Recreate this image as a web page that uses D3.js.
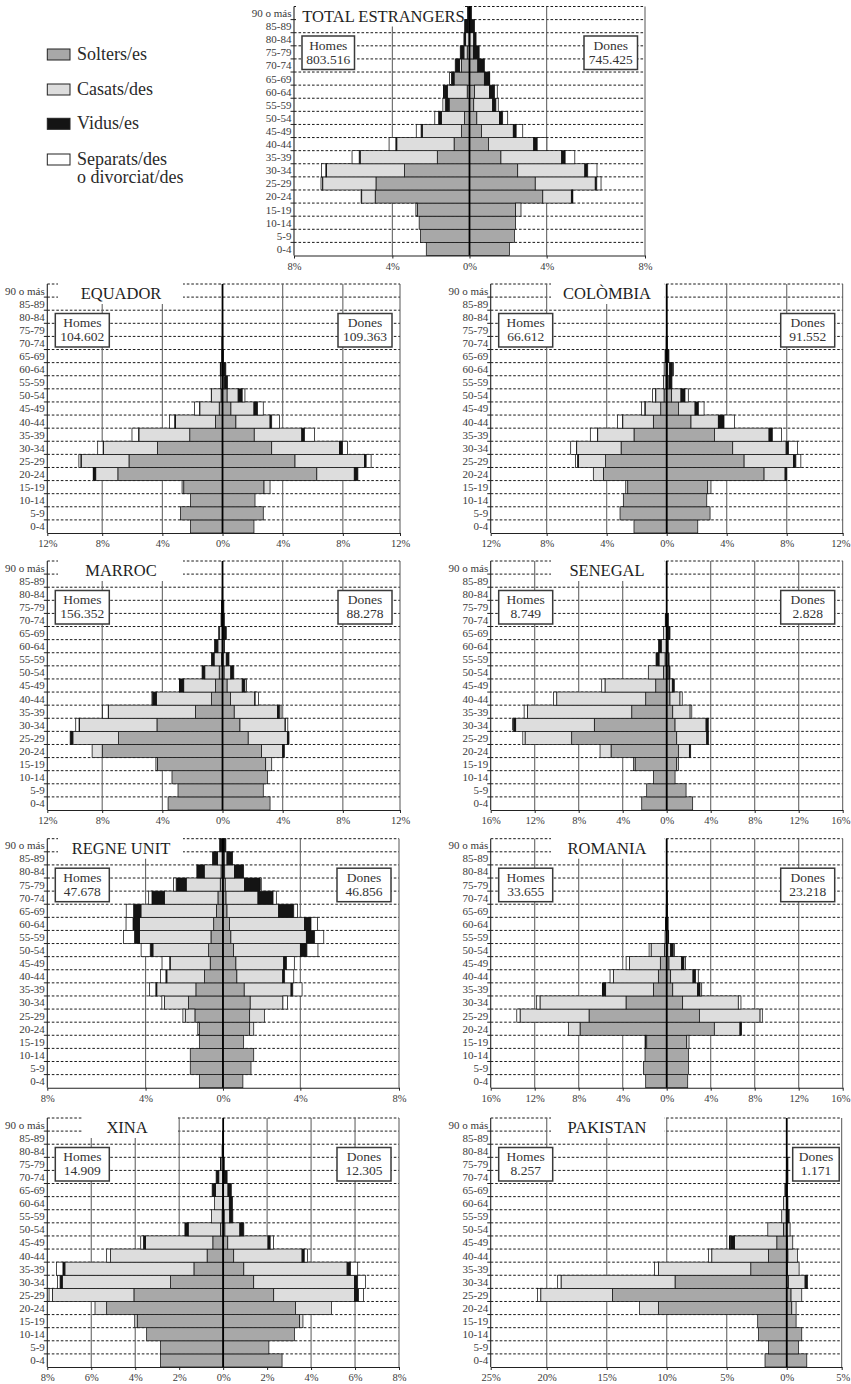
<!DOCTYPE html>
<html><head><meta charset="utf-8">
<script src="https://cdn.jsdelivr.net/npm/d3@7"></script>
<style>
body{margin:0;background:#fff}
svg{display:block}
text{font-family:"Liberation Serif","Times New Roman",serif}
</style></head>
<body><svg id="c" width="851" height="1384"></svg>
<script>
// ---------- categories ----------
const AGES = ["0-4","5-9","10-14","15-19","20-24","25-29","30-34","35-39","40-44","45-49",
              "50-54","55-59","60-64","65-69","70-74","75-79","80-84","85-89","90 o más"];
const STATUS = ["Solters/es","Casats/des","Vidus/es","Separats/des"];
const LEGEND_LINES = [["Solters/es"],["Casats/des"],["Vidus/es"],["Separats/des","o divorciat/des"]];
const TITLES = ["TOTAL ESTRANGERS","EQUADOR","COLÒMBIA","MARROC","SENEGAL","REGNE UNIT","ROMANIA","XINA","PAKISTAN"];
const HOMES_TOTAL = ["803.516","104.602","66.612","156.352","8.749","47.678","33.655","14.909","8.257"];
const DONES_TOTAL = ["745.425","109.363","91.552","88.278","2.828","46.856","23.218","12.305","1.171"];

// ---------- axis extents & tick labels (in %) ----------
const DOMAINS = [[-9.1,9.1],[-11.65,11.8],[-11.73,11.73],[-11.65,11.8],[-16,16],[-9.08,9.1],[-16,16],[-8,8],[-24.67,4.58]];
const GRID_TICKS = [[-4,0,4],[-8,-4,0,4,8],[-8,-4,0,4,8],[-8,-4,0,4,8],[-12,-8,-4,0,4,8,12],
                    [-4,0,4],[-12,-8,-4,0,4,8,12],[-6,-4,-2,0,2,4,6],[-20,-15,-10,-5,0]];
const EDGE_LABELS = [["8%","8%"],["12%","12%"],["12%","12%"],["12%","12%"],["16%","16%"],
                     ["8%","8%"],["16%","16%"],["8%","8%"],["25%","5%"]];

// ---------- values: % of population, per age (0-4 .. 90+), [Solters, Casats, Vidus, Separats] ----------
const TOTAL_H = [[2.24,0,0,0],[2.54,0,0,0],[2.61,0,0,0],[2.70,0.08,0,0],[4.89,0.70,0.01,0.02],[4.85,2.76,0.02,0.07],
 [3.37,4.05,0.03,0.22],[1.67,4.00,0.05,0.37],[0.80,2.97,0.05,0.35],[0.41,2.04,0.06,0.25],[0.26,1.20,0.14,0.20],
 [1.05,0.04,0.17,0.12],[0.12,1.03,0.17,0.03],[0.80,0,0.14,0.09],[0.42,0.10,0.22,0],[0.12,0.17,0.19,0],
 [0.03,0.17,0.09,0],[0.02,0.05,0.18,0],[0,0,0.10,0]];
const TOTAL_D = [[2.07,0,0,0],[2.33,0,0,0],[2.39,0,0,0],[2.39,0.28,0,0],[3.80,1.48,0.06,0.02],[3.41,3.11,0.08,0.22],
 [2.50,3.48,0.15,0.48],[1.63,3.15,0.18,0.50],[0.98,2.35,0.18,0.50],[0.62,1.65,0.15,0.34],[0.38,1.17,0.17,0.26],
 [0.22,0.98,0.17,0.12],[0.26,0.78,0.26,0.14],[0.77,0,0.26,0.02],[0.43,0,0.34,0],[0.20,0,0.30,0],
 [0.02,0.20,0.12,0],[0,0.06,0.20,0],[0,0,0.10,0]];
const EQ_H = [[2.13,0,0,0],[2.80,0,0,0],[2.13,0,0,0],[2.58,0.11,0,0],[6.96,1.47,0.13,0.04],[6.22,3.18,0.02,0.13],
 [4.33,3.58,0.03,0.36],[2.18,3.38,0.02,0.44],[0.47,2.66,0.05,0.35],[0.22,1.29,0.02,0.33],[0.10,0.63,0,0.02],
 [0.03,0.10,0,0],[0.02,0.08,0.05,0],[0,0.03,0.02,0],[0,0.02,0.02,0],[0,0.01,0.01,0],[0,0,0.01,0],[0,0,0,0],[0,0,0,0]];
const EQ_D = [[2.09,0,0,0],[2.71,0,0,0],[2.16,0,0,0],[2.76,0.40,0,0],[6.27,2.49,0.24,0],[4.82,4.62,0.11,0.33],
 [3.27,4.51,0.20,0.33],[2.11,3.16,0.18,0.67],[0.89,2.27,0.11,0.51],[0.56,1.53,0.24,0.38],[0.31,0.73,0.27,0.18],
 [0.10,0.05,0.18,0],[0.02,0.05,0.15,0],[0,0.02,0.05,0],[0,0,0.03,0],[0,0,0.02,0],[0,0,0.01,0],[0,0,0,0],[0,0,0,0]];
const CO_H = [[2.18,0,0,0],[3.11,0,0,0],[2.89,0,0,0],[2.60,0.13,0,0],[4.22,0.67,0,0],[4.07,1.82,0.05,0.13],
 [3.04,2.96,0.02,0.38],[2.18,2.42,0.02,0.47],[0.89,2.04,0.02,0.33],[0.40,1.04,0.02,0.22],[0.18,0.55,0.02,0.20],
 [0.05,0.17,0,0],[0.05,0.12,0,0],[0,0.03,0.08,0],[0,0.02,0.02,0],[0,0,0.01,0],[0,0,0,0],[0,0,0,0],[0,0,0,0]];
const CO_D = [[2.07,0,0,0],[2.89,0,0,0],[2.67,0,0,0],[2.73,0.22,0,0],[6.49,1.40,0.11,0],[5.16,3.29,0.16,0.33],
 [4.40,3.56,0.16,0.60],[3.18,3.64,0.22,0.62],[1.62,1.82,0.38,0.69],[0.78,1.11,0.22,0.38],[0.33,0.62,0.27,0.22],
 [0.05,0.10,0.20,0],[0.05,0.15,0.20,0.05],[0,0.03,0.12,0],[0,0.01,0.03,0],[0,0,0.02,0],[0,0,0.01,0],[0,0,0.01,0],[0,0,0,0]];
const MA_H = [[3.62,0,0,0],[2.96,0,0,0],[3.36,0,0,0],[4.33,0.10,0,0],[8.00,0.67,0,0],[6.91,3.04,0.18,0],
 [4.36,5.16,0.02,0.22],[1.80,5.78,0.02,0.38],[0.73,3.67,0.27,0.02],[0.47,2.11,0.27,0.02],[0.22,0.96,0.18,0],
 [0.07,0.49,0.18,0],[0.02,0.29,0.22,0],[0.02,0.20,0.03,0],[0,0.05,0.05,0],[0,0.03,0.03,0],[0,0.01,0.02,0],[0,0,0.01,0],[0,0,0,0]];
const MA_D = [[3.16,0,0,0],[2.71,0,0,0],[3.00,0,0,0],[2.87,0.40,0,0],[2.60,1.40,0.11,0],[1.71,2.60,0.11,0],
 [1.16,3.00,0.02,0.16],[0.78,2.87,0.13,0.11],[0.53,1.62,0.02,0.22],[0.31,1.00,0.18,0.11],[0.11,0.44,0.20,0],
 [0.05,0.20,0.18,0],[0.02,0.08,0.02,0],[0,0.03,0.22,0],[0,0.02,0.10,0],[0,0.01,0.08,0],[0,0,0.02,0],[0,0,0,0],[0,0,0,0]];
const SE_H = [[2.27,0,0,0],[1.82,0,0,0],[1.21,0,0,0],[2.88,0.15,0,0],[5.06,1.00,0,0],[8.64,4.24,0,0.20],
 [6.58,7.15,0.20,0.10],[3.18,9.48,0,0.30],[1.91,8.09,0,0.30],[1.00,4.61,0,0.30],[0.30,1.37,0,0],
 [0.15,0.55,0.27,0],[0.05,0.45,0.24,0],[0.02,0.28,0,0],[0,0.05,0.08,0],[0,0,0,0],[0,0,0,0],[0,0,0,0],[0,0,0,0]];
const SE_D = [[2.36,0,0,0],[1.76,0,0,0],[0.76,0,0,0],[0.91,0.15,0,0],[1.06,1.00,0.12,0],[0.91,2.73,0.15,0],
 [0.76,2.82,0.20,0],[0.55,1.58,0,0.15],[0.30,0.91,0,0.20],[0.24,0.27,0.18,0],[0.05,0.15,0.10,0],
 [0.02,0.12,0.08,0],[0,0.08,0.06,0],[0,0.05,0.25,0],[0,0.02,0.13,0],[0,0,0,0],[0,0,0,0],[0,0,0,0],[0,0,0,0]];
const RU_H = [[1.22,0,0,0],[1.69,0,0,0],[1.69,0,0,0],[1.22,0,0,0],[1.21,0.09,0,0],[1.45,0.50,0,0.12],
 [1.78,1.24,0,0.14],[1.40,2.02,0.05,0.33],[0.95,1.95,0.05,0.28],[0.66,2.07,0.02,0.40],[0.74,2.88,0.14,0.47],
 [0.62,3.69,0.26,0.57],[0.48,3.83,0.34,0.36],[0.34,3.90,0.38,0.38],[0.26,2.77,0.64,0.17],[0.14,1.76,0.52,0.14],
 [0.10,0.87,0.38,0],[0.05,0.23,0.26,0],[0,0.02,0.15,0]];
const RU_D = [[1.03,0,0,0],[1.45,0,0,0],[1.59,0,0,0],[1.07,0,0,0],[1.38,0.21,0,0],[1.38,0.76,0,0],
 [1.41,1.69,0,0.24],[1.10,2.42,0.09,0.48],[0.72,2.37,0.10,0.47],[0.67,2.47,0.14,0.41],[0.55,3.45,0.34,0.57],
 [0.41,3.90,0.43,0.47],[0.34,3.88,0.33,0.34],[0.21,2.67,0.78,0.20],[0.16,1.65,0.78,0.17],[0.12,1.00,0.81,0.05],
 [0.09,0.51,0.47,0],[0.07,0.14,0.29,0],[0,0.02,0.13,0]];
const RO_H = [[1.91,0,0,0],[2.12,0,0,0],[1.97,0,0,0],[1.82,0.12,0.03,0],[7.88,1.06,0,0],[7.06,6.27,0,0.30],
 [3.70,7.82,0,0.30],[1.21,4.34,0.24,0.06],[0.76,4.09,0,0.30],[0.58,2.81,0,0.30],[0.21,1.21,0,0.18],
 [0.05,0.10,0,0],[0.02,0.06,0.02,0],[0,0.03,0.02,0],[0,0.02,0.01,0],[0,0,0,0],[0,0,0,0],[0,0,0,0],[0,0,0,0]];
const RO_D = [[1.91,0,0,0],[1.97,0,0,0],[1.97,0,0,0],[1.82,0.21,0,0],[4.33,2.33,0.15,0],[2.97,5.52,0,0.20],
 [1.45,5.06,0,0.24],[0.55,2.24,0.24,0.15],[0.36,2.03,0.24,0.24],[0.21,1.15,0.21,0.15],[0.10,0.26,0.24,0.10],
 [0.03,0.10,0.05,0],[0,0.05,0.08,0],[0,0.02,0.05,0],[0,0.01,0.04,0],[0,0,0,0],[0,0,0,0],[0,0,0,0],[0,0,0,0]];
const XI_H = [[2.85,0,0,0],[2.85,0,0,0],[3.48,0,0,0],[3.91,0.11,0,0],[5.30,0.53,0,0],[4.06,3.71,0,0.15],
 [2.39,4.93,0.10,0.12],[1.33,5.87,0.09,0.29],[0.73,4.39,0,0.18],[0.47,3.06,0.10,0.12],[0.12,1.47,0.15,0],
 [0.05,0.48,0,0],[0.03,0.36,0,0],[0.02,0.33,0.15,0],[0.02,0.18,0.12,0],[0,0.10,0.02,0],[0,0.03,0.02,0],[0,0.01,0.01,0],[0,0,0,0]];
const XI_D = [[2.68,0,0,0],[2.08,0,0,0],[3.24,0,0,0],[3.48,0.15,0,0],[3.29,1.64,0,0],[2.30,3.68,0.18,0.23],
 [1.39,4.59,0.14,0.35],[0.94,4.70,0.15,0.33],[0.48,3.11,0.10,0.15],[0.21,1.83,0.10,0.15],[0.08,0.68,0.18,0],
 [0.05,0.25,0.14,0],[0.02,0.26,0.14,0],[0.02,0.20,0.15,0],[0,0.03,0.15,0],[0,0.02,0.03,0],[0,0,0.02,0],[0,0,0,0],[0,0,0,0]];
const PK_H = [[1.81,0,0,0],[1.53,0,0,0],[2.36,0,0,0],[2.42,0,0,0],[10.69,1.58,0,0],[14.53,5.97,0,0.28],
 [9.31,9.50,0,0.28],[3.00,7.69,0,0.33],[1.53,4.72,0,0.28],[0.83,3.53,0.36,0.05],[0.28,1.30,0,0],
 [0.05,0.37,0,0],[0.02,0.26,0,0],[0,0.12,0.03,0],[0,0.05,0,0],[0,0,0,0],[0,0,0,0],[0,0,0,0],[0,0,0,0]];
const PK_D = [[1.67,0,0,0],[0.97,0,0,0],[1.25,0,0,0],[0.78,0,0,0],[0.42,0.36,0,0],[0.36,0.89,0,0],
 [0.14,1.39,0.19,0],[0.05,0.98,0,0],[0.10,0.79,0,0],[0.05,0.45,0,0],[0.03,0.25,0,0],
 [0,0.05,0.15,0],[0,0.03,0.07,0],[0,0.02,0.03,0],[0,0,0.10,0],[0,0,0.10,0],[0,0,0,0],[0,0,0,0],[0,0,0,0]];

const MEN = [TOTAL_H,EQ_H,CO_H,MA_H,SE_H,RU_H,RO_H,XI_H,PK_H];
const WOMEN = [TOTAL_D,EQ_D,CO_D,MA_D,SE_D,RU_D,RO_D,XI_D,PK_D];

// ---------- layout (positions / styles) ----------
const COLORS = ["#a8a8a8","#dddddd","#141414","#ffffff"];
const PH = 249;
const LAYOUT = [
  {x0:294,  x1:645,  y0:6.5,   tb:[296,463], tcx:383.5, hw:52.5, dw:53.5, doff:7.5},
  {x0:47.3, x1:400,  y0:284,   tb:[58,183],  tcx:121},
  {x0:490.7,x1:842.7,y0:284,   tb:[551,664], tcx:607},
  {x0:47.3, x1:400,  y0:561,   tb:[58,183],  tcx:121},
  {x0:490.7,x1:842.7,y0:561,   tb:[551,664], tcx:607},
  {x0:47.3, x1:399,  y0:838.7, tb:[58,183],  tcx:121},
  {x0:490.7,x1:842.7,y0:838.7, tb:[551,664], tcx:607},
  {x0:47.3, x1:399,  y0:1118,  tb:[82,178],  tcx:127},
  {x0:490.7,x1:841.7,y0:1118,  tb:[551,664], tcx:607, dw:46.5, doff:2.5}
];

const svg = d3.select("#c");
const stack = d3.stack().keys([0,1,2,3]).value((d,k)=>d[k]);

// ---------- legend ----------
const legY = [49,84,118.3,154];
const leg = svg.append("g");
LEGEND_LINES.forEach((lines,i)=>{
  leg.append("rect").attr("x",47.3).attr("y",legY[i]).attr("width",22.7).attr("height",11)
    .attr("fill",COLORS[i]).attr("stroke","#222").attr("stroke-width",1);
  lines.forEach((t,j)=>{
    leg.append("text").attr("x",77).attr("y",legY[i]+11+j*17.7).attr("font-size",18)
      .attr("fill","#2a2a2a").text(t);
  });
});

// ---------- pyramids ----------
LAYOUT.forEach((L,ci)=>{
  const g = svg.append("g");
  const x = d3.scaleLinear().domain(DOMAINS[ci]).range([L.x0,L.x1]);
  const y = d3.scaleBand().domain(AGES.slice().reverse()).range([L.y0,L.y0+PH]).padding(0);
  const bw = y.bandwidth();
  const yb = L.y0+PH;

  // dashed row lines
  d3.range(0,19).forEach(i=>{
    const yy = L.y0+i*bw;
    g.append("line").attr("x1",L.x0).attr("x2",L.x1).attr("y1",yy).attr("y2",yy)
      .attr("stroke","#1a1a1a").attr("stroke-width",1).attr("stroke-dasharray","2.6,1.9");
  });
  // vertical gridlines
  GRID_TICKS[ci].filter(v=>v!==0).forEach(v=>{
    g.append("line").attr("x1",x(v)).attr("x2",x(v)).attr("y1",L.y0).attr("y2",yb)
      .attr("stroke","#666").attr("stroke-width",1.1);
  });
  // right frame
  g.append("line").attr("x1",L.x1).attr("x2",L.x1).attr("y1",L.y0).attr("y2",yb)
    .attr("stroke","#555").attr("stroke-width",1);
  // title mask
  g.append("rect").attr("x",L.tb[0]).attr("y",L.y0-1.5).attr("width",L.tb[1]-L.tb[0]).attr("height",21.5)
    .attr("fill","#fff");
  g.append("text").attr("x",L.tcx).attr("y",L.y0+15).attr("text-anchor","middle")
    .attr("font-size",16.5).attr("fill","#1e1e1e").text(TITLES[ci]);

  // bars
  [[MEN[ci],-1],[WOMEN[ci],1]].forEach(([rows,sgn])=>{
    const series = stack(rows);
    series.forEach((s,k)=>{
      g.append("g").selectAll("rect").data(s.map((d,i)=>({d,i})).filter(o=>o.d[1]-o.d[0]>0))
        .join("rect")
        .attr("x",o=> sgn<0 ? x(-o.d[1]) : x(o.d[0]))
        .attr("width",o=> Math.abs(x(o.d[1])-x(o.d[0])))
        .attr("y",o=> y(AGES[o.i]))
        .attr("height",bw)
        .attr("fill",COLORS[k]).attr("stroke","#111").attr("stroke-width",0.75);
    });
  });

  // zero line
  g.append("line").attr("x1",x(0)).attr("x2",x(0)).attr("y1",L.y0).attr("y2",yb)
    .attr("stroke","#000").attr("stroke-width",1.8);

  // left axis with ticks at row boundaries
  g.append("line").attr("x1",L.x0).attr("x2",L.x0).attr("y1",L.y0).attr("y2",yb)
    .attr("stroke","#222").attr("stroke-width",1.1);
  d3.range(1,19).forEach(i=>{
    const yy = L.y0+i*bw;
    g.append("line").attr("x1",L.x0-3.5).attr("x2",L.x0).attr("y1",yy).attr("y2",yy)
      .attr("stroke","#222").attr("stroke-width",1);
  });
  g.append("g").selectAll("text").data(AGES).join("text")
    .attr("x",L.x0-2.5).attr("y",d=>y(d)+bw/2).attr("dy","0.36em")
    .attr("text-anchor","end").attr("font-size",11).attr("fill","#3a3a3a").text(d=>d);

  // bottom axis
  const dom = DOMAINS[ci];
  const tv = [dom[0], ...GRID_TICKS[ci], dom[1]];
  const ax = d3.axisBottom(x).tickValues(tv).tickSizeInner(3).tickSizeOuter(0).tickPadding(4)
    .tickFormat(v=> v===dom[0] ? EDGE_LABELS[ci][0] : v===dom[1] ? EDGE_LABELS[ci][1] : Math.abs(v)+"%");
  const ag = g.append("g").attr("transform",`translate(0,${yb})`).call(ax);
  ag.select(".domain").attr("stroke","#222").attr("stroke-width",1.1);
  ag.selectAll(".tick line").attr("stroke","#222");
  ag.selectAll(".tick text").attr("font-size",10.5).attr("fill","#3a3a3a")
    .attr("font-family","'Liberation Serif','Times New Roman',serif");
  // keep the outermost right label inside the page
  if (L.x1 > 820) {
    ag.selectAll(".tick").filter(v=>v===dom[1]).select("text")
      .attr("text-anchor","end").attr("x",Math.min(8, 850 - L.x1));
  }

  // Homes / Dones boxes
  const hw = L.hw||54, dw = L.dw||54, doff = L.doff===undefined?8:L.doff;
  const boxes = [
    {x:L.x0+8, w:hw, t1:"Homes", t2:HOMES_TOTAL[ci]},
    {x:L.x1-doff-dw, w:dw, t1:"Dones", t2:DONES_TOTAL[ci]}
  ];
  boxes.forEach(b=>{
    g.append("rect").attr("x",b.x).attr("y",L.y0+29.5).attr("width",b.w).attr("height",33.5)
      .attr("fill","#fff").attr("stroke","#3a3a3a").attr("stroke-width",1.5);
    g.append("text").attr("x",b.x+b.w/2).attr("y",L.y0+43).attr("text-anchor","middle")
      .attr("font-size",13.5).attr("fill","#333").text(b.t1);
    g.append("text").attr("x",b.x+b.w/2).attr("y",L.y0+57).attr("text-anchor","middle")
      .attr("font-size",13.5).attr("fill","#333").text(b.t2);
  });
});
</script>
</body></html>
